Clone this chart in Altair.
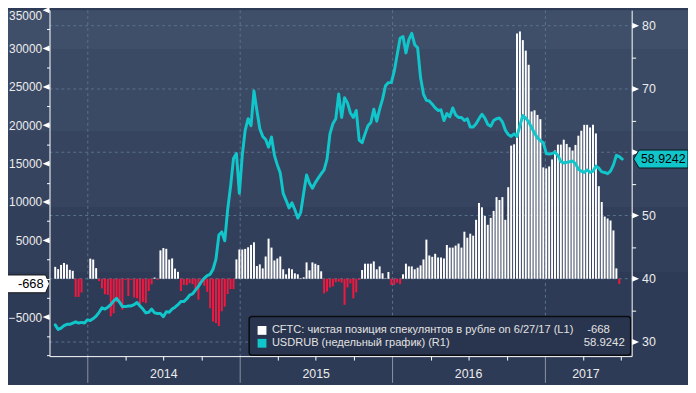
import altair as alt
import pandas as pd

# ---------------- data ----------------
# CFTC net speculative position in RUB (contracts), weekly, first week 2013-10-15
cftc_net = [
    1550, 1250, 1800, 2060, 1850, 1160, 1030, -2365, -2365, -1800,
    0, 0, 2620, 2500, 1380, -300, -1250, -2020, -2100, -4900,
    -4500, -3100, -2900, -4040, -150, -2240, -150, -2450, -2540, -3310,
    -3010, -3180, -1600, -730, 150, -150, 3700, 4000, 3900, 2500,
    2650, 1320, 900, -1600, -800, -840, -580, -710, -1360, -2730,
    -300, -920, -1700, -3850, -5570, -5780, -6170, -4240, -3630, -2000,
    -1350, -1350, 2520, 3810, 3810, 3890, 4100, 4410, 4750, 1660,
    1870, 1350, 2900, 5225, 4060, 2385, 2640, 2900, 1230, 580,
    1350, 1230, 710, 580, 65, 190, 2130, 1100, 2130, 1950,
    1780, 970, -1910, -1660, -1140, -1000, -450, -370, -500, -3400,
    -1140, -620, -2560, -1780, -150, 1140, 1960, 1960, 1960, 2260,
    1230, 1610, 710, 65, 880, -800, -800, -500, -710, 580,
    1960, 1610, 1610, 1230, 1440, 1740, 2515, 5100, 3030, 2860,
    3250, 2775, 2775, 2640, 4400, 4060, 4060, 4320, 4580, 4060,
    6130, 5350, 5870, 5610, 7680, 9870, 9310, 8190, 7030, 7930,
    8840, 10640, 10260, 10640, 7680, 11930, 17350, 17520, 31950, 32230,
    31100, 29730, 27880, 21800, 21950, 21350, 20800, 14510, 14380, 14640,
    15550, 16710, 17480, 17480, 18120, 17570, 17140, 16710, 17440, 18640,
    19290, 20060, 20060, 19720, 20060, 18940, 12060, 10000, 8110, 7850,
    7590, 6300, 1350, -668,
]
# USDRUB weekly, first week 2013-10-15
usdrub = [
    32.7, 32.0, 32.2, 32.6, 32.8, 32.8, 33.0, 33.2, 33.0, 33.1,
    33.0, 33.5, 33.4, 33.7, 34.1, 34.7, 35.4, 35.2, 35.5, 35.9,
    36.5, 36.9, 36.3, 35.6, 35.6, 35.7, 35.7, 35.9, 36.25, 35.7,
    35.2, 34.6, 34.7, 35.2, 34.6, 34.5, 34.5, 34.0, 34.8, 34.7,
    35.2, 35.5, 35.9, 36.4, 36.4, 36.8, 37.4, 37.6, 38.2, 38.8,
    39.5, 40.1, 40.5, 40.7, 41.5, 43.1, 46.9, 47.4, 46.0, 50.9,
    54.6, 59.0, 59.8, 53.5, 59.5, 63.5, 65.3, 64.2, 69.7, 66.6,
    63.7, 62.5, 62.0, 60.8, 62.4, 59.5, 58.0, 56.7, 53.5, 52.4,
    51.2, 52.0, 50.9, 49.6, 50.5, 53.5, 56.4, 55.1, 54.3, 55.2,
    55.9, 56.6, 57.2, 58.9, 62.9, 64.5, 65.3, 69.2, 65.5, 68.6,
    67.8, 66.2, 65.5, 66.6, 61.9, 61.5, 62.9, 64.2, 64.7, 66.8,
    64.9, 66.8, 68.4, 70.5, 71.0, 71.0, 72.8, 75.4, 78.0, 78.3,
    75.7, 77.8, 78.8, 77.0, 76.5, 71.8, 69.2, 68.2, 68.1, 67.6,
    67.0, 66.6, 66.7, 65.0, 66.1, 65.6, 67.0, 65.9, 65.5, 65.5,
    65.0, 65.3, 64.0, 64.0, 64.5, 65.3, 66.0, 65.4, 64.4, 64.1,
    65.0, 65.3, 65.4, 64.8, 63.5, 62.8, 62.5, 62.9, 62.5, 64.2,
    65.8, 65.4, 64.8, 63.9, 63.0, 62.3, 61.8, 61.5, 59.8, 59.7,
    59.8, 60.0, 59.5, 58.5, 58.3, 58.4, 58.5, 58.6, 58.2, 57.3,
    57.0, 56.8, 57.2, 56.8, 57.0, 57.8, 57.5, 56.9, 56.8, 56.6,
    57.0, 58.0, 59.5, 59.3, 58.9242,
]
first_week = "2013-10-15"

year_names = ["2014", "2015", "2016", "2017"]
year_starts = ["2014-01-01T00:00:00", "2015-01-01T00:00:00", "2016-01-01T00:00:00", "2017-01-01T00:00:00"]
year_label_pos = ["2014-07-02T00:00:00", "2015-07-02T00:00:00", "2016-07-01T00:00:00", "2017-04-08T00:00:00"]
quarter_ticks = [(y, m) for y in (2014, 2015, 2016) for m in (4, 7, 10)] + [(2017, 4), (2017, 7)]

left_ticks = [-10000 + 2500 * i for i in range(19)]
left_labeled = [-5000, 5000, 10000, 15000, 20000, 25000, 30000, 35000]
left_markers = [-5000, 5000, 10000, 15000, 20000, 25000, 30000, 35000]
right_ticks = [30, 35, 40, 45, 50, 55, 60, 65, 70, 75, 80]
right_labeled = [30, 40, 50, 70, 80]          # 60 sits under the last-value tag
right_markers = [30, 40, 50, 60, 70, 80]

legend_labels = ["CFTC: чистая позиция спекулянтов в рубле on 6/27/17 (L1)",
                 "USDRUB (недельный график) (R1)"]
legend_values = ["-668", "58.9242"]
last_cftc = -668
last_rub = 58.9242

# ---------------- styling ----------------
W, H = 589, 350
FONT = "Liberation Sans"
TXT = "#ececec"
CYAN = "#10c6ca"
RED = "#f2183f"
GRID = "#5a728c"

df_bar = pd.DataFrame({
    "date": pd.date_range(first_week, periods=len(cftc_net), freq="7D").strftime("%Y-%m-%dT%H:%M:%S"),
    "v": cftc_net,
})
df_bar["base"] = 0
df_line = pd.DataFrame({
    "date": pd.date_range(first_week, periods=len(usdrub), freq="7D").strftime("%Y-%m-%dT%H:%M:%S"),
    "v": usdrub,
})
df_years = pd.DataFrame({"year": year_names, "start": year_starts, "mid": year_label_pos})
one = pd.DataFrame({"k": [0]})

xs = alt.Scale(domain=[alt.DateTime(year=2013, month=10, date=13, hours=4),
                       alt.DateTime(year=2017, month=7, date=14, hours=19)], nice=False)
yl = alt.Scale(domain=[-10085, 35000], nice=False, zero=False)
yr = alt.Scale(domain=[27.77, 82.45], nice=False, zero=False)

xaxis = alt.Axis(values=[alt.DateTime(year=y, month=m, date=1) for y, m in quarter_ticks],
                 labels=False, title=None, grid=False, tickSize=4, tickColor="#ffffff",
                 domainColor="#ffffff", domainWidth=1, zindex=1)

lab_l = "indexof([%s], datum.value) >= 0 ? datum.label : ''" % ",".join(str(v) for v in left_labeled)
lab_r = "indexof([%s], datum.value) >= 0 ? datum.label : ''" % ",".join(str(v) for v in right_labeled)
laxis = alt.Axis(orient="left", values=left_ticks, format="d", labelExpr=lab_l, title=None, grid=False,
                 tickSize=3, tickColor="#ffffff", domainColor="#ffffff", labelColor=TXT, labelFont=FONT,
                 labelFontSize=12, labelPadding=5, labelFlush=True, labelOverlap=False, zindex=1)
raxis = alt.Axis(orient="right", values=right_ticks, format="d", labelExpr=lab_r, title=None, grid=False,
                 tickSize=4, tickColor="#ffffff", domainColor="#ffffff", labelColor=TXT, labelFont=FONT,
                 labelFontSize=12.5, labelPadding=6, labelOverlap=False, zindex=1)

b = [0.1053, 0.3236, 0.5271, 0.7037]
cols = ["#3f4f69", "#3a4964", "#36445f", "#323f5a", "#2e3b56"]
stops = [alt.GradientStop(offset=0, color=cols[0])]
for i, o in enumerate(b):
    stops.append(alt.GradientStop(offset=o, color=cols[i]))
    stops.append(alt.GradientStop(offset=o, color=cols[i + 1]))
stops.append(alt.GradientStop(offset=1, color=cols[4]))
grad = alt.LinearGradient(gradient="linear", stops=stops, x1=0, x2=0, y1=0, y2=1)

bg = alt.Chart(one).mark_rect(color=grad).encode(
    x=alt.value(-42), x2=alt.value(W + 57), y=alt.value(0), y2=alt.value(H + 27))

vgrid = alt.Chart(df_years).mark_rule(color=GRID, strokeDash=[3, 3], strokeWidth=1).encode(
    x=alt.X("start:T", scale=xs, axis=xaxis), y=alt.value(0), y2=alt.value(H))

hgrid = alt.Chart(pd.DataFrame({"v": right_markers})).mark_rule(color=GRID, strokeDash=[3, 3], strokeWidth=1).encode(
    y=alt.Y("v:Q", scale=yr, axis=None), x=alt.value(0), x2=alt.value(W))

bars = alt.Chart(df_bar).mark_bar(size=2).encode(
    x=alt.X("date:T", scale=xs, axis=xaxis),
    y=alt.Y("v:Q", scale=yl, axis=laxis),
    y2="base:Q",
    color=alt.condition(alt.datum.v >= 0, alt.value("#ffffff"), alt.value(RED)),
)

line = alt.Chart(df_line).mark_line(color=CYAN, strokeWidth=3, strokeJoin="round", strokeCap="round").encode(
    x=alt.X("date:T", scale=xs, axis=xaxis),
    y=alt.Y("v:Q", scale=yr, axis=raxis),
)

ltri = alt.Chart(pd.DataFrame({"v": left_markers})).mark_point(
    shape="M -1 0 L 1 -0.85 L 1 0.85 Z", size=49, filled=True, fill="#ffffff", strokeWidth=0, opacity=1).encode(
    x=alt.value(-3.5), y=alt.Y("v:Q", scale=yl, axis=None))
rtri = alt.Chart(pd.DataFrame({"v": right_markers})).mark_point(
    shape="M 1 0 L -1 -0.85 L -1 0.85 Z", size=49, filled=True, fill="#ffffff", strokeWidth=0, opacity=1).encode(
    x=alt.value(W + 4), y=alt.Y("v:Q", scale=yr, axis=None))

yrules = alt.Chart(df_years).mark_rule(color="#8d94a1", strokeWidth=1).encode(
    x=alt.X("start:T", scale=xs, axis=xaxis), y=alt.value(H), y2=alt.value(H + 27))
ytext = alt.Chart(df_years).mark_text(font=FONT, fontSize=12.5, color=TXT, baseline="middle").encode(
    x=alt.X("mid:T", scale=xs, axis=xaxis), y=alt.value(H + 18), text="year:N")

leg_box = alt.Chart(one).mark_rect(fill="#29344e", stroke="#0a0c10", strokeWidth=1.5, cornerRadius=3).encode(
    x=alt.value(202), x2=alt.value(588), y=alt.value(310), y2=alt.value(349))
leg_layers = []
for i, (lab, val, col) in enumerate(zip(legend_labels, legend_values, ["#ffffff", CYAN])):
    yy = 324 + 13 * i
    d = pd.DataFrame({"lab": [lab], "val": [val]})
    leg_layers.append(alt.Chart(d).mark_square(size=80, color=col, opacity=1).encode(
        x=alt.value(215), y=alt.value(yy)))
    leg_layers.append(alt.Chart(d).mark_text(font=FONT, fontSize=11.2, color="#e2e2e2", align="left",
                                             baseline="middle").encode(
        x=alt.value(225), y=alt.value(yy), text="lab:N"))
    leg_layers.append(alt.Chart(d).mark_text(font=FONT, fontSize=11.5, color="#e2e2e2", align="right",
                                             baseline="middle").encode(
        x=alt.value(567 if i == 0 else 582), y=alt.value(yy), text="val:N"))

dl = pd.DataFrame({"v": [last_cftc], "lab": [legend_values[0]]})
lbox = alt.Chart(dl).mark_point(shape="M -1 -0.36 L 0.84 -0.36 L 1 0 L 0.84 0.36 L -1 0.36 Z", size=2500,
                                filled=True, fill="#ffffff", stroke="#151515", strokeWidth=1, opacity=1).encode(
    x=alt.value(-25), y=alt.Y("v:Q", scale=yl, axis=None))
ltxt = alt.Chart(dl).mark_text(font=FONT, fontSize=13, color="#000000", baseline="middle").encode(
    x=alt.value(-19), y=alt.Y("v:Q", scale=yl, axis=None), text="lab:N")

dr = pd.DataFrame({"v": [last_rub], "lab": [legend_values[1]]})
rbox = alt.Chart(dr).mark_point(shape="M -1 0 L -0.8 -0.33 L 1 -0.33 L 1 0.33 L -0.8 0.33 Z", size=3025,
                                filled=True, fill=CYAN, stroke="#0d1418", strokeWidth=1, opacity=1).encode(
    x=alt.value(W + 29.5), y=alt.Y("v:Q", scale=yr, axis=None))
rtxt = alt.Chart(dr).mark_text(font=FONT, fontSize=12.5, color="#000000", baseline="middle").encode(
    x=alt.value(W + 32), y=alt.Y("v:Q", scale=yr, axis=None), text="lab:N")

chart = alt.layer(
    bg, vgrid, hgrid, bars, line, ltri, rtri, yrules, ytext, leg_box, *leg_layers, lbox, ltxt, rbox, rtxt
).resolve_scale(y="independent").properties(
    width=W, height=H,
    padding={"left": 42, "top": 0, "right": 57, "bottom": 27},
    autosize=alt.AutoSizeParams(type="none"),
    background="#2e3b56",
).configure_view(stroke=None)

chart.save("out.html", embed_options={"renderer": "svg", "actions": False})
